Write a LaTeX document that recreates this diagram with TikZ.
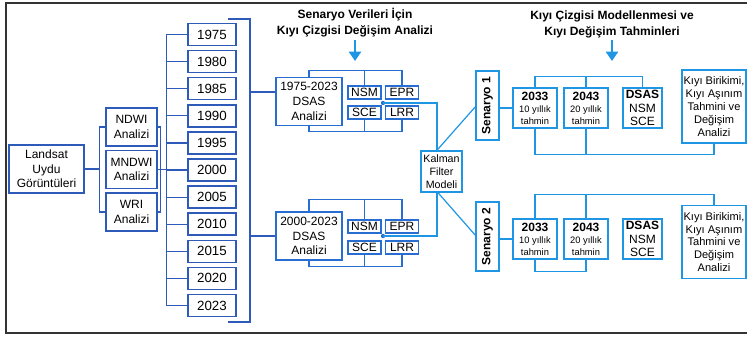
\documentclass[tikz,border=0pt]{standalone}
\usepackage{fontspec}
\setmainfont{Liberation Sans}
\usetikzlibrary{arrows.meta}
\definecolor{dkblue}{RGB}{46,90,185}
\definecolor{mdblue}{RGB}{40,110,210}
\definecolor{ltblue}{RGB}{30,150,228}
\begin{document}
\begin{tikzpicture}[x=0.75pt,y=-0.75pt,
    box/.style={draw=dkblue, line width=1.1pt, inner sep=0pt, align=center, font=\fontsize{9}{11}\selectfont},
    anabox/.style={box, minimum width=38.25pt, minimum height=28.5pt},
    yearbox/.style={box, minimum width=36pt, minimum height=16.5pt, font=\fontsize{10}{12}\selectfont},
    dsbox/.style={box, draw=mdblue, minimum width=49.5pt, minimum height=36pt},
    metbox/.style={box, draw=mdblue, line width=1pt, minimum width=24.75pt, minimum height=9.75pt},
    senbox/.style={box, draw=ltblue, rotate=90, minimum width=51.75pt, minimum height=17.25pt, font=\bfseries\fontsize{9}{11}\selectfont},
    fcbox/.style={box, draw=ltblue, minimum width=33pt, minimum height=30pt, font=\fontsize{7}{8.5}\selectfont},
    dsrbox/.style={box, draw=ltblue, minimum width=29.25pt, minimum height=30pt, font=\fontsize{9}{10}\selectfont},
    kibox/.style={box, draw=ltblue, minimum width=48pt, minimum height=54.5pt, font=\fontsize{8.3}{9.7}\selectfont},
    ttl/.style={align=center, inner sep=0pt, font=\bfseries\fontsize{9}{12}\selectfont},
    lnk/.style={draw=dkblue, line width=0.9pt},
    lnkm/.style={draw=mdblue, line width=0.9pt},
    lnkl/.style={draw=ltblue, line width=0.9pt},
    tarr/.style={draw=ltblue, line width=1.8pt, -{Triangle[width=9pt,length=7pt]}}]
    \useasboundingbox (0,0) rectangle (747,337);
    \draw[black!80, line width=0.9pt] (6,3) rectangle (752,333);

    \node[box, minimum width=56.25pt, minimum height=36pt] (land) at (46.5,169) {Landsat\\Uydu\\Görüntüleri};
    \node[anabox] (ndwi) at (131.5,127) {NDWI\\Analizi};
    \node[anabox] (mndwi) at (131.5,169.5) {MNDWI\\Analizi};
    \node[anabox] (wri) at (131.5,212) {WRI\\Analizi};
    \draw[lnk] (ndwi.west) -- ++(-6,0) coordinate (bl) |- (wri.west);
    \draw[lnk] (land.east) -- (land.east -| bl);
    \draw[lnk] (ndwi.east) -- ++(3,0) coordinate (br) |- (wri.east);

    \foreach \yr [count=\i from 0] in {1975,1980,1985,1990,1995,2000,2005,2010,2015,2020,2023}
      \node[yearbox] (y\yr) at (212,{34.5+27.1*\i}) {\yr};
    \draw[lnk] (y1975.west) -- ++(-21,0) coordinate (yt) |- (y2023.west);
    \foreach \yr in {1980,1985,1990,1995,2000,2005,2010,2015,2020}
      \draw[lnk] (y\yr.west) -- (y\yr.west -| yt);
    \draw[lnk] (mndwi.east) -- (mndwi.east -| yt);

    \coordinate (rb1) at (228,19);
    \coordinate (rb2) at (250,19);
    \coordinate (rb3) at (250,322);
    \coordinate (rb4) at (228,322);
    \draw[lnk] (rb1) -- (rb2) -- (rb3) -- (rb4);
    \coordinate (rbA) at (250,92);
    \coordinate (rbB) at (250,236);

    \node[ttl] (t1) at (355,23) {Senaryo Verileri İçin\\Kıyı Çizgisi Değişim Analizi};
    \coordinate (a1) at (355,40);
    \draw[tarr] (a1) -- ++(0,21);
    \node[ttl] (t2) at (612,24) {Kıyı Çizgisi Modellenmesi ve\\Kıyı Değişim Tahminleri};
    \coordinate (a2) at (612,40);
    \draw[tarr] (a2) -- ++(0,21);

    \node[dsbox] (dsasA) at (309,101.5) {1975-2023\\DSAS\\Analizi};
    \node[metbox] (nsmA) at (364.5,92.5) {NSM};
    \node[metbox] (eprA) at (402,92.5) {EPR};
    \node[metbox] (sceA) at (364.5,112.5) {SCE};
    \node[metbox] (lrrA) at (402,112.5) {LRR};
    \draw[lnk] (rbA) -- (rbA -| dsasA.west);
    \draw[lnkm] (dsasA.north) -- ++(0,-6) coordinate (tA) -| (eprA.north);
    \draw[lnkm] (nsmA.north) -- (nsmA.north |- tA);
    \draw[lnkm] (dsasA.south) -- ++(0,5) coordinate (bA) -| (lrrA.south);
    \draw[lnkm] (sceA.south) -- (sceA.south |- bA);
    \coordinate (dotA) at (383,103);
    \fill[mdblue] (dotA) circle (1.6pt);

    \node[dsbox] (dsasB) at (309,236) {2000-2023\\DSAS\\Analizi};
    \node[metbox] (nsmB) at (364.5,226.5) {NSM};
    \node[metbox] (eprB) at (402,226.5) {EPR};
    \node[metbox] (sceB) at (364.5,247.5) {SCE};
    \node[metbox] (lrrB) at (402,247.5) {LRR};
    \draw[lnk] (rbB) -- (dsasB.west);
    \draw[lnkm] (dsasB.north) -- ++(0,-12) coordinate (tB) -| (eprB.north);
    \draw[lnkm] (nsmB.north) -- (nsmB.north |- tB);
    \draw[lnkm] (dsasB.south) -- ++(0,6) coordinate (bB) -| (lrrB.south);
    \draw[lnkm] (sceB.south) -- (sceB.south |- bB);
    \coordinate (dotB) at (383,236);
    \fill[mdblue] (dotB) circle (1.6pt);

    \node[box, draw=ltblue, minimum width=30.75pt, minimum height=30.75pt, font=\fontsize{8}{9.75}\selectfont] (kal) at (441.5,171.5) {Kalman\\Filter\\Modeli};
    \draw[lnkl] (dotA) -| ([xshift=-3.4pt]kal.north);
    \draw[lnkl] (dotB) -| ([xshift=-3.4pt]kal.south);

    \node[senbox] (senA) at (487.5,105.5) {Senaryo 1};
    \node[senbox] (senB) at (487.5,236.5) {Senaryo 2};
    \draw[lnkl] ([xshift=-3.4pt]kal.north) -- ([yshift=-1pt]senA.north);
    \draw[lnkl] ([xshift=-2.6pt]kal.south) -- ([yshift=1pt]senB.north);

    \node[fcbox] (fcA) at (535,108) {{\bfseries\fontsize{9}{11}\selectfont 2033}\\[1pt]10 yıllık\\tahmin};
    \node[fcbox] (fyA) at (586,108) {{\bfseries\fontsize{9}{11}\selectfont 2043}\\[1pt]20 yıllık\\tahmin};
    \node[dsrbox] (dsA) at (642.5,108) {\textbf{DSAS}\\NSM\\SCE};
    \node[kibox] (kiA) at (714,106.5) {Kıyı Birikimi,\\Kıyı Aşınım\\Tahmini ve\\Değişim\\Analizi};
    \draw[lnkl] (fcA.west) -- (fcA.west -| senA.south);
    \draw[lnkl] (fcA.north) -- ++(0,-11) coordinate (rtA) -| (dsA.north);
    \draw[lnkl] (fyA.north) -- (fyA.north |- rtA);
    \draw[lnkl] (fcA.south) -- ++(0,26) coordinate (rbtA) -| (kiA.south);
    \draw[lnkl] (fyA.south) -- (fyA.south |- rbtA);

    \node[fcbox] (fcB) at (535,239) {{\bfseries\fontsize{9}{11}\selectfont 2033}\\[1pt]10 yıllık\\tahmin};
    \node[fcbox] (fyB) at (586,239) {{\bfseries\fontsize{9}{11}\selectfont 2043}\\[1pt]20 yıllık\\tahmin};
    \node[dsrbox] (dsB) at (642.5,239) {\textbf{DSAS}\\NSM\\SCE};
    \node[kibox] (kiB) at (714,242) {Kıyı Birikimi,\\Kıyı Aşınım\\Tahmini ve\\Değişim\\Analizi};
    \draw[lnkl] (fcB.west) -- (fcB.west -| senB.south);
    \draw[lnkl] (fcB.north) -- ++(0,-24) coordinate (rtB) -| (kiB.north);
    \draw[lnkl] (fyB.north) -- (fyB.north |- rtB);
    \draw[lnkl] (fcB.south) -- ++(0,12) coordinate (rbtB) -| (fyB.south);
\end{tikzpicture}
\end{document}
